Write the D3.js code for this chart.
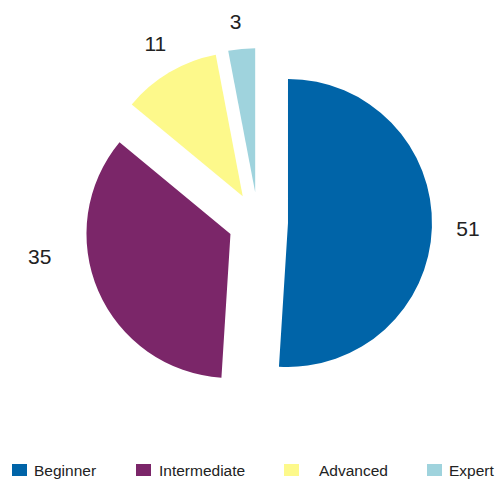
<!DOCTYPE html>
<html>
<head>
<meta charset="utf-8">
<script src="https://cdn.jsdelivr.net/npm/d3@7"></script>
<style>
  html, body { margin: 0; padding: 0; background: #fff; }
  svg { display: block; }
  text { font-family: "Liberation Sans", Arial, sans-serif; fill: #222; }
</style>
</head>
<body>
<svg id="chart" width="503" height="479"></svg>
<script>
// Skill level breakdown
const categories = ["Beginner", "Intermediate", "Advanced", "Expert"];
const values = [51, 35, 11, 3];
const colors = ["#0064A8", "#7B2669", "#FDF98B", "#9FD3DD"];

// Layout
const width = 503, height = 479;
const cx = 258, cy = 222;       // pie centre
const radius = 144;
const explode = 30;             // every slice is pulled out from the centre
// label placement: radius from centre plus a small angular nudge (degrees)
const labelRadius = [210, 221, 206, 202];
const labelNudge = [0, 14.5, 0.7, -1];
// legend positions along the bottom row
const legendSwatchX = [12, 136, 284, 427];
const legendTextX = [34, 159, 319, 449];

const svg = d3.select("#chart");
const g = svg.append("g").attr("transform", `translate(${cx},${cy})`);

const pie = d3.pie().sort(null).value(d => d.value).startAngle(0).endAngle(2 * Math.PI);
const arcs = pie(categories.map((c, i) => ({ name: c, value: values[i], color: colors[i] })));
const arc = d3.arc().innerRadius(0).outerRadius(radius);

const mid = d => (d.startAngle + d.endAngle) / 2;

g.selectAll("path.slice")
  .data(arcs)
  .join("path")
  .attr("class", "slice")
  .attr("d", arc)
  .attr("fill", d => d.data.color)
  .attr("transform", d => {
    const a = mid(d);
    return `translate(${explode * Math.sin(a)},${-explode * Math.cos(a)})`;
  });

g.selectAll("text.value")
  .data(arcs)
  .join("text")
  .attr("class", "value")
  .attr("text-anchor", "middle")
  .attr("dy", "0.35em")
  .style("font-size", "21px")
  .attr("x", (d, i) => labelRadius[i] * Math.sin(mid(d) + labelNudge[i] * Math.PI / 180))
  .attr("y", (d, i) => -labelRadius[i] * Math.cos(mid(d) + labelNudge[i] * Math.PI / 180))
  .text(d => d.data.value);

// Legend
const legend = svg.append("g");
categories.forEach((c, i) => {
  legend.append("rect")
    .attr("x", legendSwatchX[i]).attr("y", 464)
    .attr("width", 15).attr("height", 12)
    .attr("fill", colors[i]);
  legend.append("text")
    .attr("x", legendTextX[i]).attr("y", 476)
    .style("font-size", "15.5px")
    .text(c);
});
</script>
</body>
</html>
